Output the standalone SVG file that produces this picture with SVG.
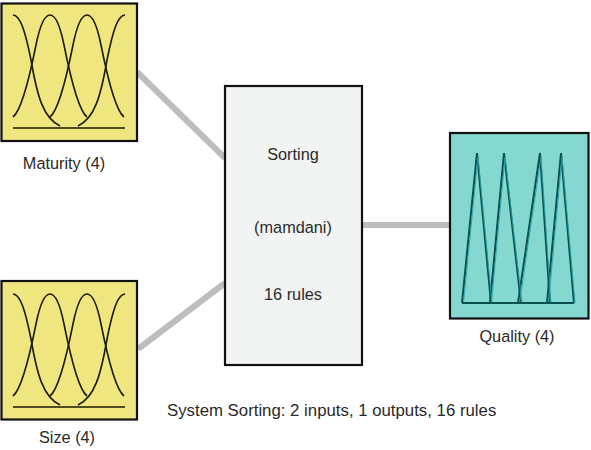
<svg xmlns="http://www.w3.org/2000/svg" width="591" height="450" viewBox="0 0 591 450">
<style>
.lbl{font-family:"Liberation Sans",Arial,sans-serif;font-size:16.3px;fill:#2a2a2a}
.in{fill:#F0E680;stroke:#111;stroke-width:2.2}
.mf{fill:none;stroke:#1a1a00;stroke-width:1.6}
.tri{fill:none;stroke:#0b4f4f;stroke-width:2;stroke-linejoin:miter}
.tri2{fill:none;stroke:#25a5a5;stroke-width:0.9}
.conn{stroke:#BDBDBD;stroke-width:6;fill:none}
</style>
<defs>
<g id="gauss">
<path class="mf" d="M13,15 C20,15 25,30 31,60 C37,95 43,118 60,126"/>
<path class="mf" d="M13,117 C22,110 30,75 36,45 C40,25 45,15 50,15 C55,15 60,25 64,45 C70,75 78,110 87,117"/>
<path class="mf" d="M50,117 C59,110 67,75 73,45 C77,25 82,15 87,15 C92,15 97,25 101,45 C107,75 115,110 124,117"/>
<path class="mf" d="M125,15 C118,15 113,30 107,60 C101,95 95,118 78,126"/>
<line class="mf" x1="13" y1="128" x2="125" y2="128" stroke-width="1.8"/>
</g>
</defs>
<rect width="591" height="450" fill="#fff"/>
<g id="connectors">
<line class="conn" x1="137" y1="72" x2="225" y2="158"/>
<line class="conn" x1="138" y1="349" x2="225" y2="283"/>
<line class="conn" x1="362" y1="225" x2="449" y2="225"/>
</g>
<g id="maturity">
<rect class="in" x="1.5" y="3.5" width="135.5" height="137.5"/>
<use href="#gauss"/>
<text class="lbl" x="64" y="169" text-anchor="middle">Maturity (4)</text>
</g>
<g id="size">
<rect class="in" x="1.5" y="281" width="135.5" height="138.5"/>
<use href="#gauss" transform="translate(0,279)"/>
<text class="lbl" x="67" y="443" text-anchor="middle">Size (4)</text>
</g>
<g id="sorting">
<rect x="225" y="86" width="137" height="279" fill="#F2F4F4" stroke="#111" stroke-width="2.2"/>
<text class="lbl" x="293" y="160" text-anchor="middle">Sorting</text>
<text class="lbl" x="293" y="233" text-anchor="middle">(mamdani)</text>
<text class="lbl" x="293" y="300" text-anchor="middle">16 rules</text>
</g>
<g id="quality">
<rect x="450" y="133" width="138.5" height="185.5" fill="#85D8D0" stroke="#111" stroke-width="2.2"/>
<polyline class="tri" points="462,303 477,153 491,303"/>
<polyline class="tri" points="490,303 504,153 521,303"/>
<polyline class="tri" points="518,303 540,153 550,303"/>
<polyline class="tri" points="547,303 561,153 574,303"/>
<polyline class="tri2" points="463.5,303 478,157 492,303"/>
<polyline class="tri2" points="491.5,303 505,157 522,303"/>
<polyline class="tri2" points="519.5,303 541,157 551,303"/>
<polyline class="tri2" points="548.5,303 562,157 575,303"/>
<line class="tri" x1="462" y1="303" x2="574" y2="303"/>
<text class="lbl" x="517" y="342" text-anchor="middle">Quality (4)</text>
</g>
<text class="lbl" x="167" y="416" style="font-size:16.8px">System Sorting: 2 inputs, 1 outputs, 16 rules</text>
</svg>
